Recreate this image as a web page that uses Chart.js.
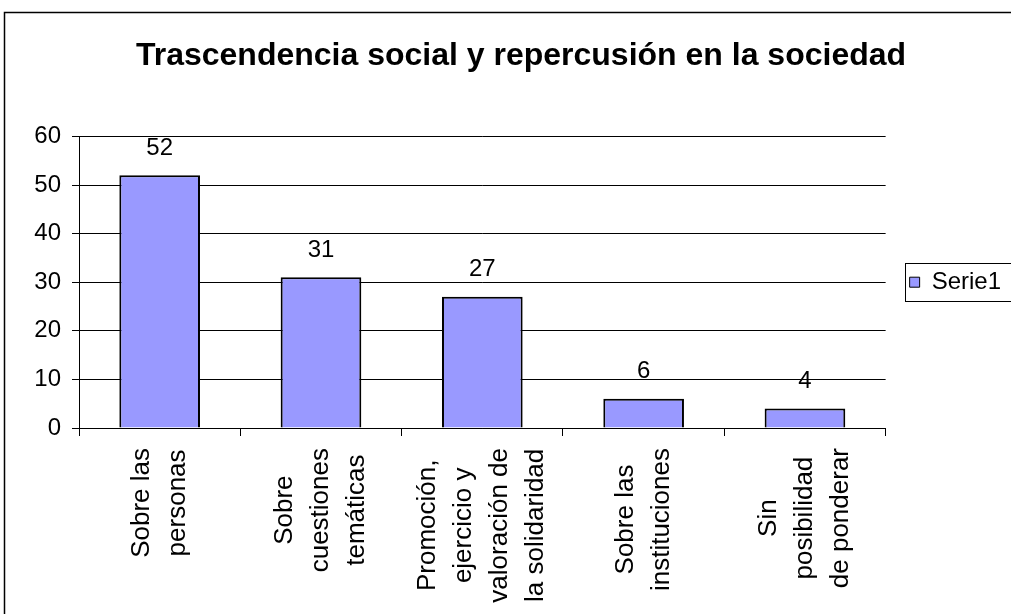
<!DOCTYPE html>
<html>
<head>
<meta charset="utf-8">
<script src="https://cdn.jsdelivr.net/npm/chart.js@4/dist/chart.umd.min.js"></script>
<style>
  html, body { margin: 0; padding: 0; overflow: hidden; background: #fff; }
  canvas { display: block; }
</style>
</head>
<body>
<canvas id="myChart" width="1030" height="630"></canvas>
<script>
// datos del grafico
const titulo = "Trascendencia social y repercusión en la sociedad";
const categorias = [
	["Sobre las", "personas"],
	["Sobre", "cuestiones", "temáticas"],
	["Promoción,", "ejercicio y", "valoración de", "la solidaridad"],
	["Sobre las", "instituciones"],
	["Sin", "posibilidad", "de ponderar"],
];
const serieNombre = "Serie1";
const serieValores = [52, 31, 27, 6, 4];
const yTicks = [0, 10, 20, 30, 40, 50, 60];

const fuente = "'Liberation Sans', Arial, Helvetica, sans-serif";
Chart.defaults.color = "#000";
Chart.defaults.font.family = fuente;

const padIzq = 31;

// marco exterior (se corta a la derecha y abajo, como en la imagen)
const marco = {
	id: "marco",
	beforeDraw(chart) {
		const ctx = chart.ctx;
		ctx.save();
		ctx.fillStyle = "#fff";
		ctx.fillRect(0, 0, chart.width, chart.height);
		ctx.strokeStyle = "#000";
		ctx.lineWidth = 1.5;
		ctx.strokeRect(4.5, 12.5, chart.width + 20, chart.height + 20);
		ctx.restore();
	},
};

// recuadro de la leyenda
const cajaLeyenda = {
	id: "cajaLeyenda",
	afterDraw(chart) {
		const hb = chart.legend && chart.legend.legendHitBoxes && chart.legend.legendHitBoxes[0];
		if (!hb) return;
		const ctx = chart.ctx;
		const cy = hb.top + hb.height / 2;
		ctx.save();
		ctx.strokeStyle = "#000";
		ctx.lineWidth = 1;
		ctx.strokeRect(Math.round(hb.left - 5) + 0.5, Math.round(cy - 19) + 0.5, 300, 38);
		ctx.restore();
	},
};

// etiquetas de categoria giradas, cada linea centrada
const etiquetasX = {
	id: "etiquetasX",
	afterDraw(chart) {
		const ctx = chart.ctx;
		const x = chart.scales.x;
		const area = chart.chartArea;
		ctx.save();
		ctx.font = "26px " + fuente;
		ctx.fillStyle = "#000";
		ctx.textAlign = "center";
		ctx.textBaseline = "middle";
		categorias.forEach((lineas, i) => {
			const cx = x.getPixelForValue(i);
			let maxW = 0;
			lineas.forEach((l) => { maxW = Math.max(maxW, ctx.measureText(l).width); });
			const cy = area.bottom + 20 + maxW / 2;
			const paso = 36;
			lineas.forEach((l, j) => {
				const lx = cx + (j - (lineas.length - 1) / 2) * paso;
				ctx.save();
				ctx.translate(lx, cy);
				ctx.rotate(-Math.PI / 2);
				ctx.fillText(l, 0, 0);
				ctx.restore();
			});
		});
		ctx.restore();
	},
};

// valores encima de las barras
const valores = {
	id: "valores",
	afterDatasetsDraw(chart) {
		const ctx = chart.ctx;
		const meta = chart.getDatasetMeta(0);
		ctx.save();
		ctx.font = "24px " + fuente;
		ctx.fillStyle = "#000";
		ctx.textAlign = "center";
		ctx.textBaseline = "middle";
		meta.data.forEach((bar, i) => {
			ctx.fillText(String(serieValores[i]), bar.x, bar.y - 27);
		});
		ctx.restore();
	},
};

const ctx = document.getElementById("myChart").getContext("2d");
const myChart = new Chart(ctx, {
	type: "bar",
	data: {
		labels: categorias.map((c) => c.join(" ")),
		datasets: [
			{
				label: serieNombre,
				data: serieValores,
				backgroundColor: "#9999FF",
				borderColor: "#000",
				borderWidth: 2,
				categoryPercentage: 1,
				barPercentage: 0.5,
			},
		],
	},
	options: {
		responsive: false,
		animation: false,
		devicePixelRatio: 1,
		layout: { padding: { left: padIzq, right: 19, top: 12, bottom: 0 } },
		plugins: {
			tooltip: { enabled: false },
			title: {
				display: true,
				text: titulo,
				color: "#000",
				font: { size: 32, weight: "bold", family: fuente, lineHeight: 1.2 },
				padding: { top: 25, bottom: 61 },
			},
			legend: {
				display: true,
				position: "right",
				fullSize: false,
				labels: {
					boxWidth: 10,
					boxHeight: 10,
					padding: 24,
					color: "#000",
					font: { size: 24, family: fuente },
					generateLabels(chart) {
						const items = Chart.defaults.plugins.legend.labels.generateLabels(chart);
						items.forEach((it) => { it.lineWidth = 1; });
						return items;
					},
				},
			},
		},
		scales: {
			x: {
				ticks: { display: false },
				grid: { drawOnChartArea: false, drawTicks: true, tickLength: 8, color: "#000", lineWidth: 1 },
				border: { color: "#000", width: 1 },
				afterFit(scale) {
					scale.height = 630 - 428;
				},
			},
			y: {
				min: yTicks[0],
				max: yTicks[yTicks.length - 1],
				ticks: {
					stepSize: yTicks[1] - yTicks[0],
					padding: 11,
					color: "#000",
					font: { size: 24, family: fuente },
				},
				grid: { color: "#000", lineWidth: 1, tickLength: 7 },
				border: { color: "#000", width: 1 },
				afterFit(scale) {
					scale.width = 79 - padIzq;
				},
			},
		},
	},
	plugins: [marco, cajaLeyenda, etiquetasX, valores],
});
</script>
</body>
</html>
